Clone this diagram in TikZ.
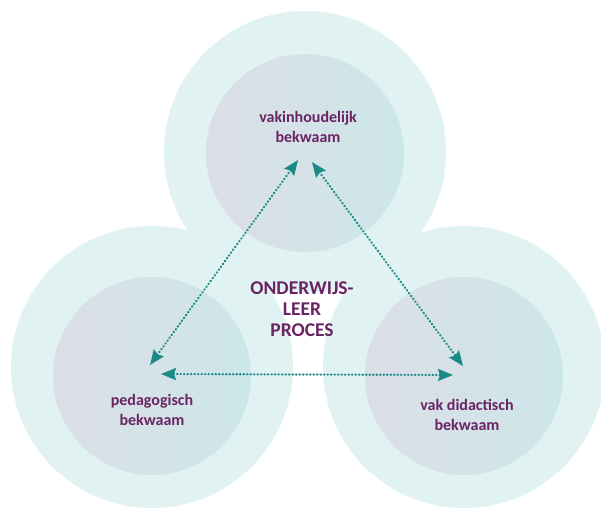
\documentclass[tikz,border=0pt]{standalone}
\usepackage{fontspec}
\setmainfont{Carlito}
\usetikzlibrary{arrows.meta}
\definecolor{outerc}{HTML}{E1F2F3}
\definecolor{innerl}{HTML}{DCDEE7}
\definecolor{innerr}{HTML}{CCE7E9}
\definecolor{tealc}{HTML}{1A8A85}
\definecolor{purp}{HTML}{6A2464}
\begin{document}
\begin{tikzpicture}[x=1pt,y=-1pt,
  outer/.style={circle, fill=outerc, minimum size=282pt, inner sep=0pt},
  inner/.style={circle, left color=innerl, right color=innerr, minimum size=198pt, inner sep=0pt},
  lbl/.style={text=purp, font=\bfseries\fontsize{16}{20}\selectfont, align=center},
  big/.style={text=purp, font=\bfseries\fontsize{19.5}{21}\selectfont, align=center},
  tip/.style={Stealth[length=15pt,width=12pt,inset=2pt,line cap=butt,line join=miter]},
  arr/.style={tealc, line width=2.1pt, dash pattern=on 0.6pt off 2.9pt, line cap=round,
    {Stealth[length=15pt,width=12pt,inset=2pt,line cap=butt,line join=miter]}-{Stealth[length=15pt,width=12pt,inset=2pt,line cap=butt,line join=miter]}}]
\useasboundingbox (0,0) rectangle (601,512);
\fill[white] (0,0) rectangle (601,512);
\node[outer] (ot) at (305,152) {};
\node[outer] (ol) at (152,367) {};
\node[outer] (or) at (464,367) {};
\node[inner] (it) at (305,153) {};
\node[inner] (il) at (152,376) {};
\node[inner] (ir) at (464,376) {};
\node[lbl] (tt) at (308,127) {vakinhoudelijk\\bekwaam};
\node[lbl] (tl) at (152,410) {pedagogisch\\bekwaam};
\node[lbl] (tr) at (467,415) {vak didactisch\\bekwaam};
\node[big] (tc) at (302,309) {ONDERWIJS-\\LEER\\PROCES};
\coordinate (a1) at (298,160);
\coordinate (a2) at (150,365);
\coordinate (b1) at (312,162);
\coordinate (b2) at (463,366);
\coordinate (c1) at (161,374);
\coordinate (c2) at (453,375);
\draw[arr] (a1) -- (a2);
\draw[arr] (b1) -- (b2);
\draw[arr] (c1) -- (c2);
\end{tikzpicture}
\end{document}
